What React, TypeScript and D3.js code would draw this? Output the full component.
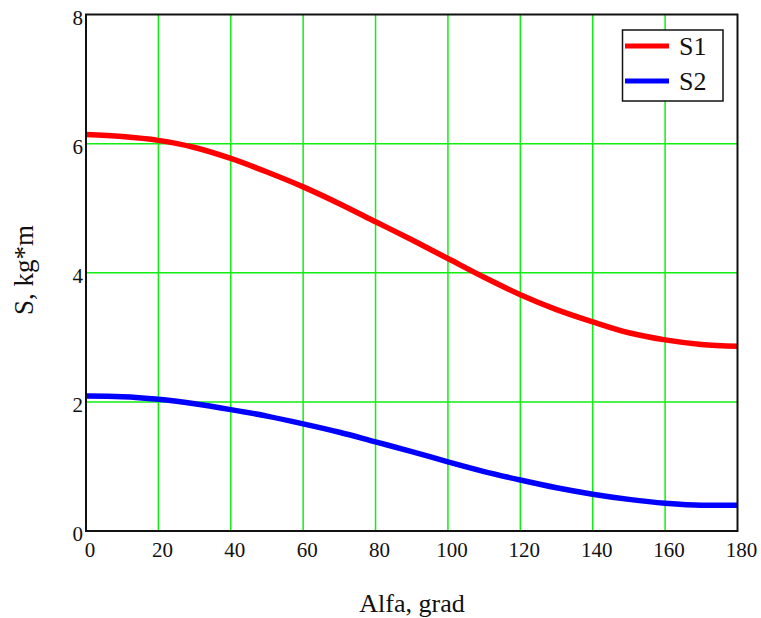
import * as d3 from "d3";

// values, every 10 degrees
const alfa = [0, 10, 20, 30, 40, 50, 60, 70, 80, 90, 100, 110, 120, 130, 140, 150, 160, 170, 180];
const s1 = [6.14, 6.11, 6.05, 5.94, 5.77, 5.56, 5.33, 5.07, 4.79, 4.51, 4.22, 3.93, 3.66, 3.43, 3.24, 3.07, 2.96, 2.89, 2.86];
const s2 = [2.09, 2.08, 2.04, 1.97, 1.88, 1.78, 1.66, 1.53, 1.38, 1.23, 1.07, 0.92, 0.79, 0.67, 0.57, 0.49, 0.43, 0.4, 0.4];
const xTicks = [0, 20, 40, 60, 80, 100, 120, 140, 160, 180];
const yTicks = [0, 2, 4, 6, 8];
const seriesNames = ["S1", "S2"];
const seriesColors = ["#ff0000", "#0000ff"];

const W = 761;
const H = 618;
const plot = { left: 86, right: 737.5, top: 14.5, bottom: 531 };
const font = "'Liberation Serif', 'Times New Roman', serif";

export default function App() {
  const x = d3.scaleLinear().domain([0, 180]).range([plot.left, plot.right]);
  const y = d3.scaleLinear().domain([0, 8]).range([plot.bottom, plot.top]);

  const line = d3
    .line<number>()
    .x((_, i) => x(alfa[i]))
    .y((d) => y(d))
    .curve(d3.curveMonotoneX);

  const series = [s1, s2];

  return (
    <svg
      width={W}
      height={H}
      style={{ position: "absolute", left: 0, top: 0, background: "#fff" }}
    >
      {/* grid */}
      {xTicks.slice(1, -1).map((t) => (
        <line key={"gx" + t} x1={x(t)} x2={x(t)} y1={plot.top} y2={plot.bottom} stroke="#11ee11" strokeWidth={1.5} />
      ))}
      {yTicks.slice(1, -1).map((t) => (
        <line key={"gy" + t} x1={plot.left} x2={plot.right} y1={y(t)} y2={y(t)} stroke="#11ee11" strokeWidth={1.5} />
      ))}

      {/* curves */}
      {series.map((s, i) => (
        <path key={i} d={line(s) || ""} fill="none" stroke={seriesColors[i]} strokeWidth={5.5} strokeLinejoin="round" />
      ))}

      {/* frame */}
      <rect
        x={plot.left}
        y={plot.top}
        width={plot.right - plot.left}
        height={plot.bottom - plot.top}
        fill="none"
        stroke="#111"
        strokeWidth={2}
      />

      {/* tick labels */}
      {xTicks.map((t) => (
        <text key={"tx" + t} x={x(t) + 4} y={557} textAnchor="middle" fontFamily={font} fontSize={21} fill="#111">
          {t}
        </text>
      ))}
      {yTicks.map((t) => (
        <text key={"ty" + t} x={83} y={y(t) + 10} textAnchor="end" fontFamily={font} fontSize={21} fill="#111">
          {t}
        </text>
      ))}

      {/* axis titles */}
      <text x={412} y={612} textAnchor="middle" fontFamily={font} fontSize={26} fill="#111">
        Alfa, grad
      </text>
      <text
        transform="translate(33,270) rotate(-90)"
        textAnchor="middle"
        fontFamily={font}
        fontSize={27}
        fill="#111"
      >
        S, kg*m
      </text>

      {/* legend */}
      <rect x={622.5} y={30} width={100.5} height={71} fill="#fff" stroke="#111" strokeWidth={1.5} />
      {seriesNames.map((n, i) => (
        <g key={n}>
          <line x1={625} x2={669} y1={46 + i * 35} y2={46 + i * 35} stroke={seriesColors[i]} strokeWidth={5} />
          <text x={679} y={55 + i * 35} fontFamily={font} fontSize={26} fill="#111">
            {n}
          </text>
        </g>
      ))}
    </svg>
  );
}
